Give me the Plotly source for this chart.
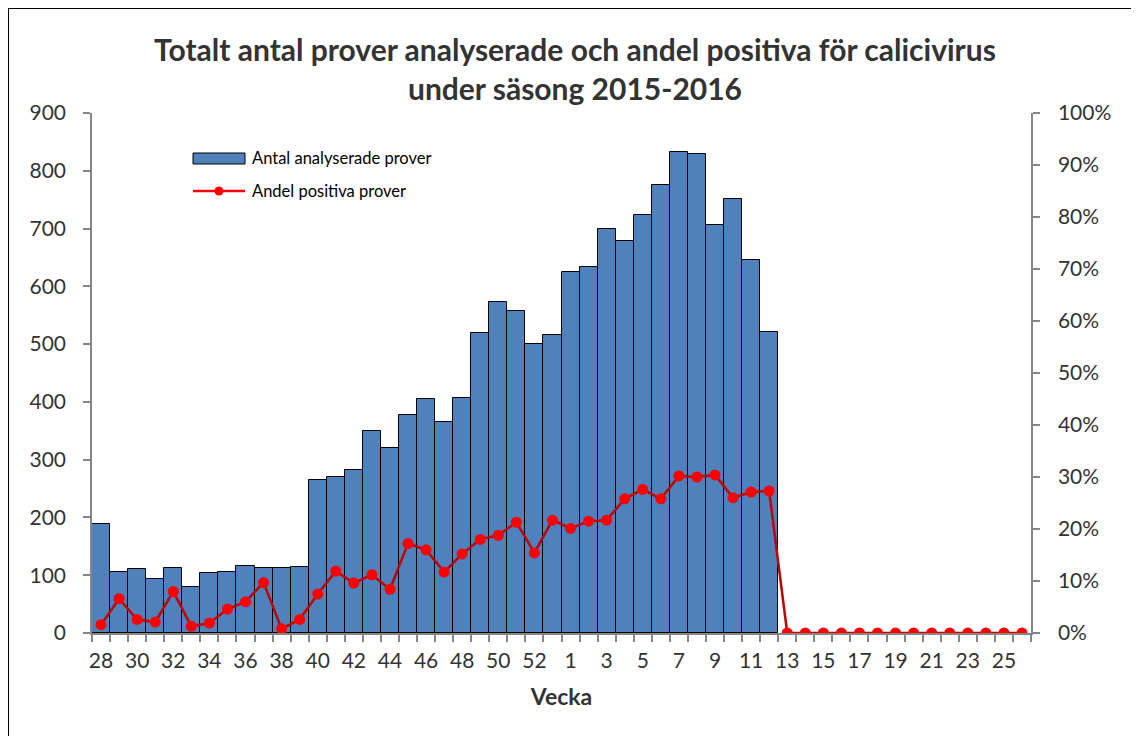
import plotly.graph_objects as go

weeks = [str(w) for w in range(28, 54)] + [str(w) for w in range(1, 27)]
antal = [188, 105, 110, 94, 112, 79, 103, 106, 116, 112, 112, 115,
         264, 270, 282, 349, 321, 378, 405, 366, 406, 519, 573, 557, 500, 515,
         625, 633, 700, 679, 724, 776, 832, 829, 706, 752, 645, 521]
andel = [1.6, 6.6, 2.6, 2.1, 8.0, 1.3, 1.9, 4.6, 6.0, 9.7, 0.8, 2.6,
         7.5, 11.9, 9.6, 11.2, 8.4, 17.2, 16.0, 11.7, 15.2, 18.0, 18.8, 21.3, 15.4, 21.7,
         20.1, 21.5, 21.7, 25.8, 27.6, 25.8, 30.2, 30.0, 30.4, 26.0, 27.1, 27.3,
         0, 0, 0, 0, 0, 0, 0, 0, 0, 0, 0, 0, 0, 0]
tick_text = [w if i % 2 == 0 else "" for i, w in enumerate(weeks)]
legend_names = ["Antal analyserade prover", "Andel positiva prover"]

FONT = "Lato"
BAR_COLOR = "#4F81BD"
LINE_COLOR = "#C00000"
MARKER_COLOR = "#FF0000"

OFF = 8  # page body margin offset of the rendered figure
W, H = 1139 - OFF, 744 - 2 * OFF
# target plot area in screenshot pixels: x 92..1031, y 113..633
L, R, T, B = 92, 1031, 113, 633
def px(x):
    return (x - L) / (R - L)
def py(y):
    return (B - y) / (B - T)

fig = go.Figure()
fig.add_trace(go.Bar(
    x=weeks[:len(antal)], y=antal, name=legend_names[0],
    marker=dict(color=BAR_COLOR, line=dict(color="#000000", width=1)),
    yaxis="y", showlegend=False,
))
fig.add_trace(go.Scatter(
    x=weeks, y=andel, name=legend_names[1], mode="lines+markers",
    line=dict(color=LINE_COLOR, width=2.5),
    marker=dict(color=MARKER_COLOR, size=11),
    yaxis="y2", showlegend=False,
))

axis_common = dict(showline=True, linecolor="#868686", linewidth=1.5,
                   ticks="outside", tickcolor="#868686", ticklen=7, tickwidth=1.5,
                   showgrid=False, zeroline=False, automargin=False,
                   tickfont=dict(family=FONT, size=21, color="#333333"))

shapes = [
    dict(type="rect", xref="paper", yref="paper",
         x0=px(8), x1=px(1180), y0=py(790), y1=py(8),
         line=dict(color="#000000", width=2), layer="below"),
    dict(type="rect", xref="paper", yref="paper",
         x0=px(193), x1=px(245), y0=py(164), y1=py(153),
         fillcolor=BAR_COLOR, line=dict(color="#000000", width=1)),
    dict(type="line", xref="paper", yref="paper",
         x0=px(193), x1=px(245), y0=py(191), y1=py(191),
         line=dict(color=MARKER_COLOR, width=2.5)),
    dict(type="circle", xref="paper", yref="paper",
         x0=px(214.5), x1=px(223.5), y0=py(195.5), y1=py(186.5),
         fillcolor=MARKER_COLOR, line=dict(color=MARKER_COLOR, width=0)),
]
annotations = [
    dict(text=legend_names[0], xref="paper", yref="paper", x=px(250), y=py(158),
         xanchor="left", yanchor="middle", showarrow=False,
         font=dict(family=FONT, size=16.5, color="#000000")),
    dict(text=legend_names[1], xref="paper", yref="paper", x=px(250), y=py(191),
         xanchor="left", yanchor="middle", showarrow=False,
         font=dict(family=FONT, size=16.5, color="#000000")),
]

fig.update_layout(
    width=W, height=H,
    margin=dict(l=L - OFF, r=W - (R - OFF), t=T - OFF, b=H - (B - OFF)),
    paper_bgcolor="white", plot_bgcolor="white",
    bargap=0,
    title=dict(text="<b>Totalt antal prover analyserade och andel positiva för calicivirus<br>under säsong 2015-2016</b>",
               x=(575 - OFF) / W, xanchor="center", y=1 - 52.5 / H, yanchor="middle",
               font=dict(family=FONT, size=30, color="#333333")),
    xaxis=dict(type="category", categoryorder="array", categoryarray=weeks,
               tickmode="array", tickvals=weeks, ticktext=tick_text,
               tickson="boundaries", tickangle=0, range=[-0.5, len(weeks) - 0.5],
               ticklabelstandoff=8,
               title=dict(text="<b>Vecka</b>", font=dict(family=FONT, size=23, color="#333333"), standoff=18),
               **axis_common),
    yaxis=dict(range=[0, 900], dtick=100, ticklabelstandoff=13, **axis_common),
    yaxis2=dict(range=[0, 100], dtick=10, ticksuffix="%", overlaying="y", side="right",
                ticklabelstandoff=14, **axis_common),
    showlegend=False,
    shapes=shapes,
    annotations=annotations,
)

fig.write_html("out.html")
